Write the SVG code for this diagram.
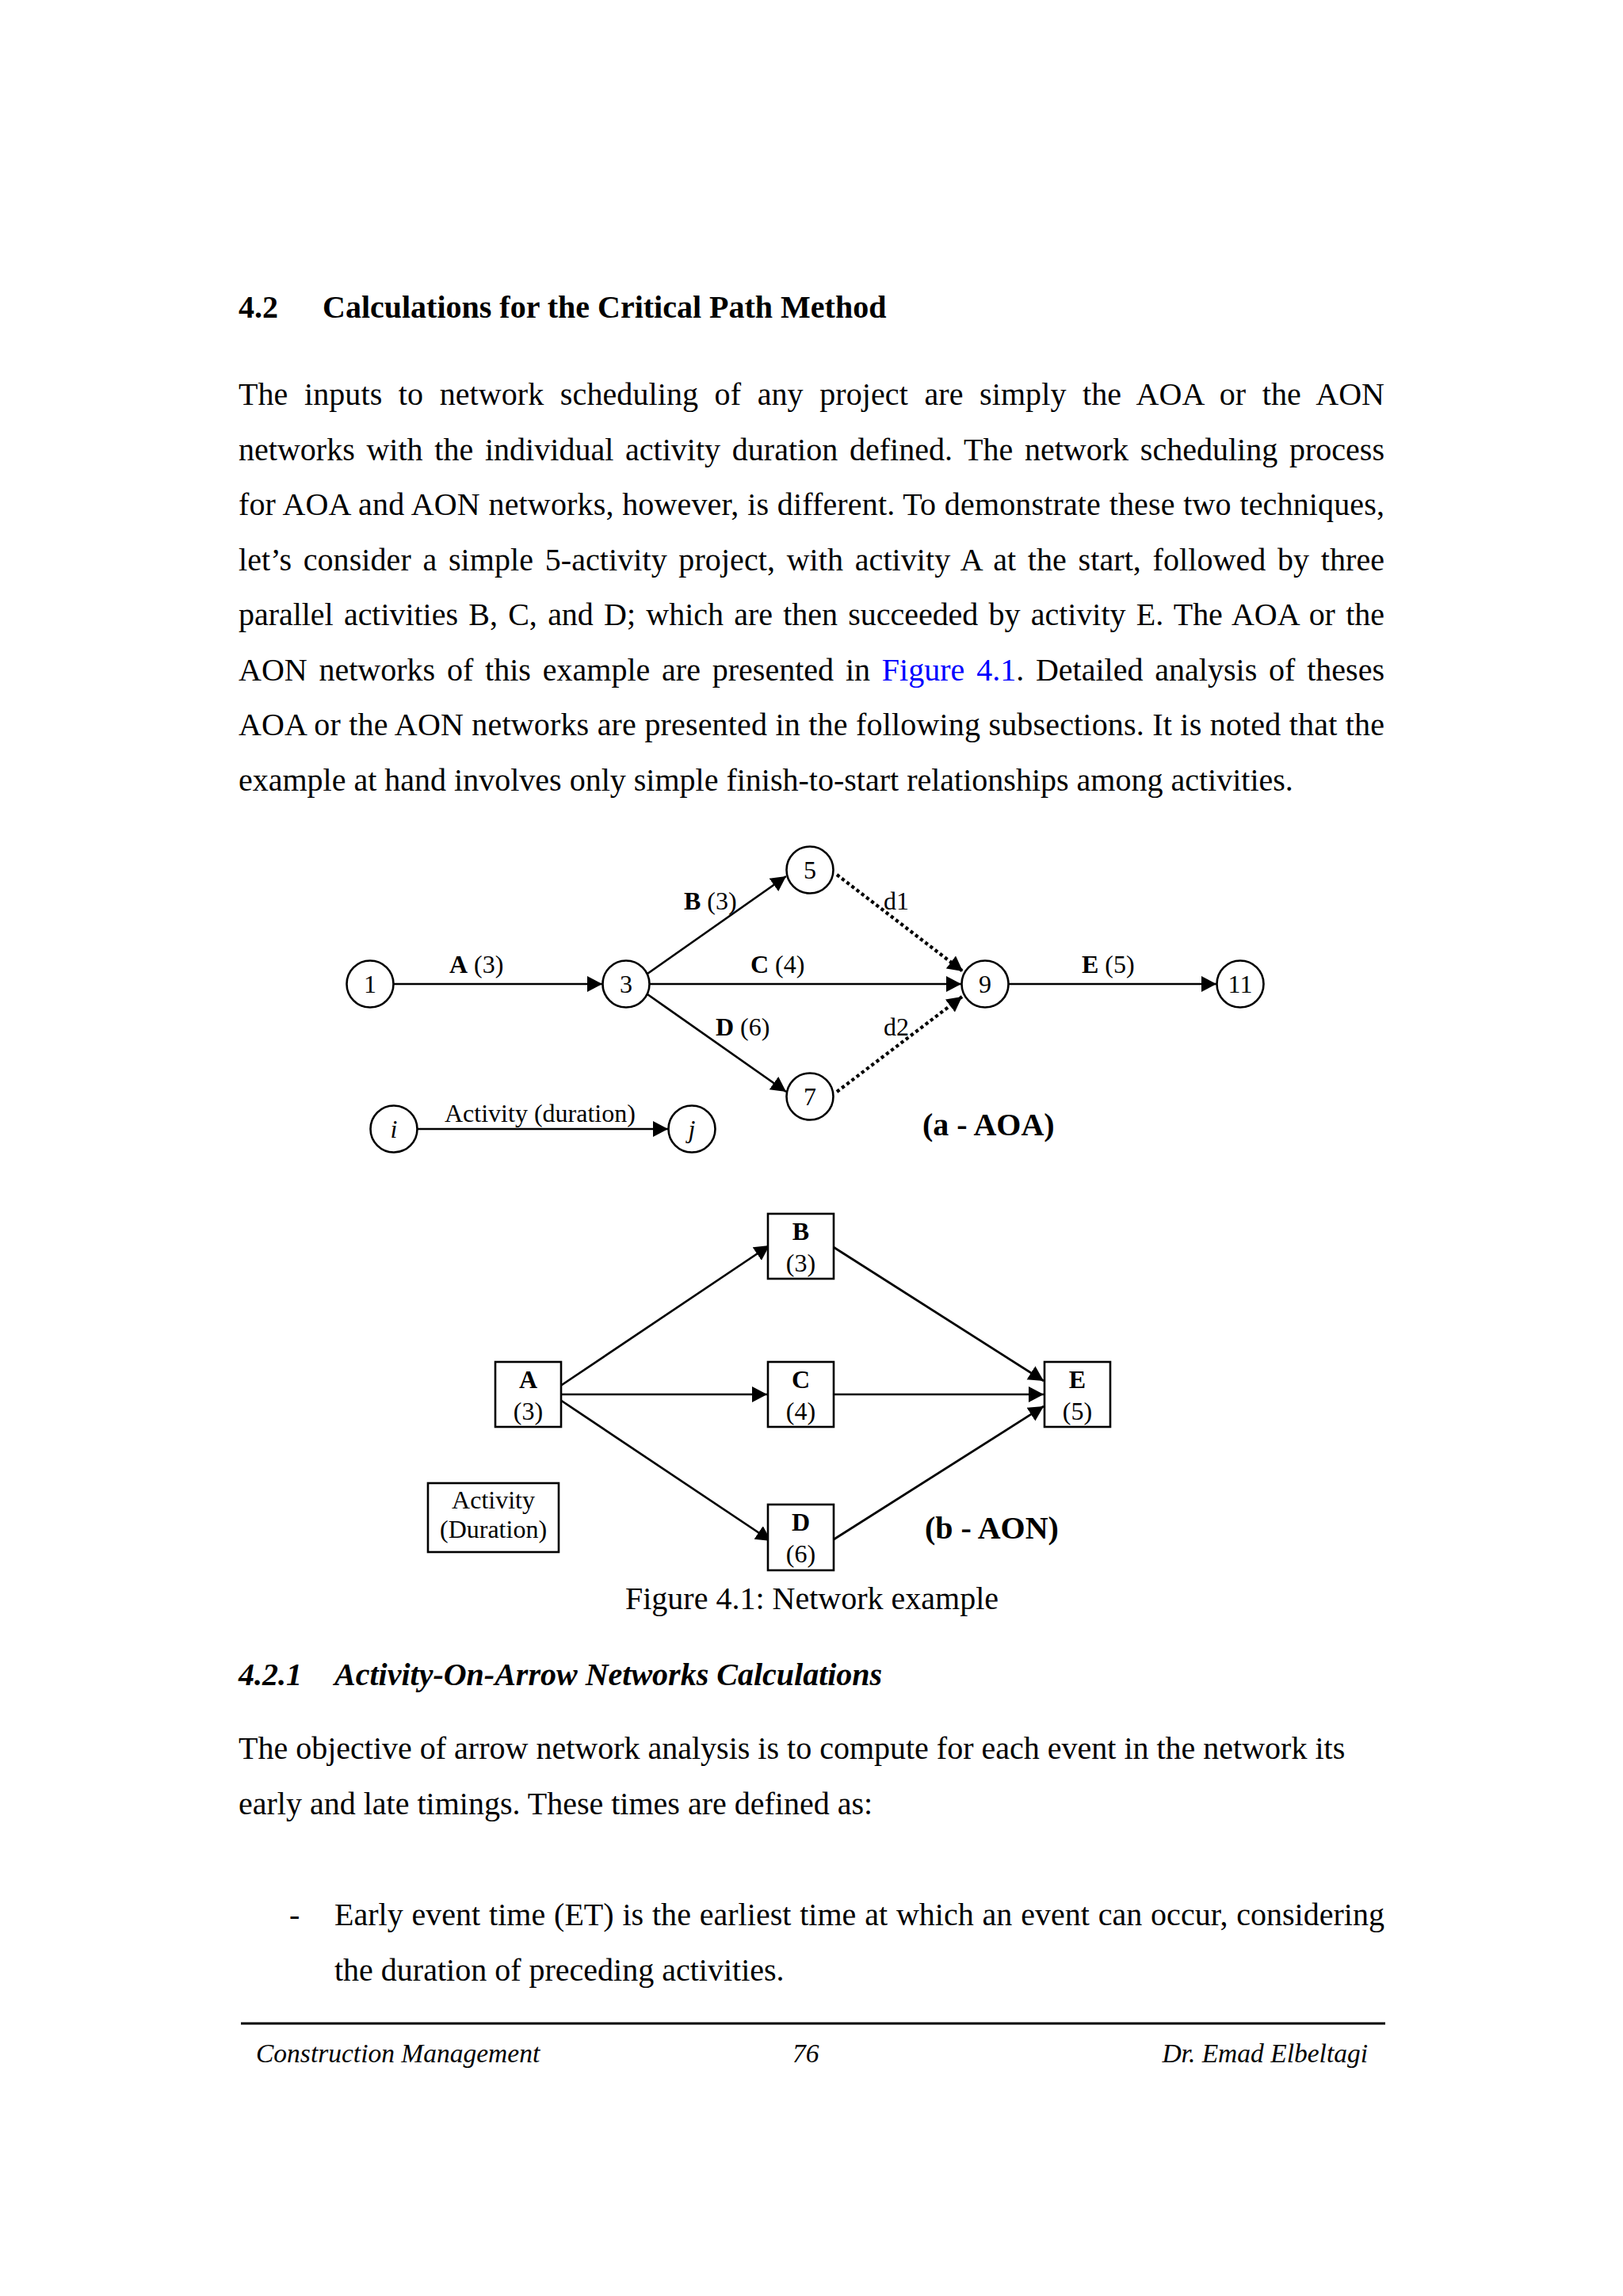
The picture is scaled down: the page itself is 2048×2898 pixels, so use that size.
<svg xmlns="http://www.w3.org/2000/svg" width="2048" height="2898" viewBox="0 0 2048 2898">
<defs>
<style>
text{font-family:"Liberation Serif","Times New Roman",serif;fill:#000}
.body{font-size:40px}
.h{font-size:40px;font-weight:bold}
.hi{font-size:40px;font-weight:bold;font-style:italic}
.foot{font-size:33.5px;font-style:italic}
.lbl{font-size:32px}
.b{font-weight:bold}
.num{font-size:32px;text-anchor:middle}
.node circle{fill:#fff;stroke:#000;stroke-width:2.6}
.node rect{fill:#fff;stroke:#000;stroke-width:2.6}
.edge{stroke:#000;stroke-width:2.7;fill:none;marker-end:url(#ah)}
.dot{stroke:#000;stroke-width:4.2;fill:none;stroke-dasharray:4.2 3.6;marker-end:url(#ah)}
.link{fill:#0000ff}
</style>
<marker id="ah" markerUnits="userSpaceOnUse" markerWidth="20" markerHeight="21" refX="19" refY="10" orient="auto" viewBox="0 0 20 21">
<path d="M0,0 L19,10 L0,20 Z" fill="#000"/>
</marker>
</defs>
<rect width="2048" height="2898" fill="#fff"/>

<!-- Heading and body text -->
<g id="text-top">
<text class="h" x="301" y="401">4.2</text>
<text class="h" x="407" y="401">Calculations for the Critical Path Method</text>
<text class="body" x="301" y="511" word-spacing="10.4" textLength="1446" lengthAdjust="spacing">The inputs to network scheduling of any project are simply the AOA or the AON</text>
<text class="body" x="301" y="580.5" word-spacing="4.7" textLength="1446" lengthAdjust="spacing">networks with the individual activity duration defined. The network scheduling process</text>
<text class="body" x="301" y="650" word-spacing="0.5" textLength="1446" lengthAdjust="spacing">for AOA and AON networks, however, is different. To demonstrate these two techniques,</text>
<text class="body" x="301" y="719.5" word-spacing="4.6" textLength="1446" lengthAdjust="spacing">let’s consider a simple 5-activity project, with activity A at the start, followed by three</text>
<text class="body" x="301" y="789" word-spacing="3.4" textLength="1446" lengthAdjust="spacing">parallel activities B, C, and D; which are then succeeded by activity E. The AOA or the</text>
<text class="body" x="301" y="858.5" word-spacing="4.8" textLength="1446" lengthAdjust="spacing">AON networks of this example are presented in <tspan class="link">Figure 4.1</tspan>. Detailed analysis of theses</text>
<text class="body" x="301" y="928" word-spacing="0.2" textLength="1446" lengthAdjust="spacing">AOA or the AON networks are presented in the following subsections. It is noted that the</text>
<text class="body" x="301" y="997.5">example at hand involves only simple finish-to-start relationships among activities.</text>
</g>

<!-- (a) AOA network -->
<g id="aoa-connectors">
<line class="edge" x1="497" y1="1242" x2="760" y2="1242"/>
<line class="edge" x1="817" y1="1229" x2="992" y2="1106"/>
<line class="edge" x1="820" y1="1242" x2="1213" y2="1242"/>
<line class="edge" x1="817" y1="1255" x2="992" y2="1378"/>
<line class="dot" x1="1056" y1="1104" x2="1215" y2="1226"/>
<line class="dot" x1="1056" y1="1378" x2="1214" y2="1258"/>
<line class="edge" x1="1273" y1="1242" x2="1535" y2="1242"/>
<line class="edge" x1="527" y1="1425" x2="843" y2="1425"/>
</g>
<g id="aoa-labels">
<text class="lbl" x="567" y="1228"><tspan class="b">A</tspan> (3)</text>
<text class="lbl" x="863" y="1148"><tspan class="b">B</tspan> (3)</text>
<text class="lbl" x="947" y="1228"><tspan class="b">C</tspan> (4)</text>
<text class="lbl" x="903" y="1307"><tspan class="b">D</tspan> (6)</text>
<text class="lbl" x="1115" y="1148">d1</text>
<text class="lbl" x="1115" y="1307">d2</text>
<text class="lbl" x="1365" y="1228"><tspan class="b">E</tspan> (5)</text>
<text class="lbl" x="561" y="1416">Activity (duration)</text>
</g>
<g id="n1" class="node"><circle cx="467" cy="1242" r="29.5"/><text class="num" x="467" y="1253">1</text></g>
<g id="n3" class="node"><circle cx="790" cy="1242" r="29.5"/><text class="num" x="790" y="1253">3</text></g>
<g id="n5" class="node"><circle cx="1022" cy="1098" r="29.5"/><text class="num" x="1022" y="1109">5</text></g>
<g id="n7" class="node"><circle cx="1022" cy="1384" r="29.5"/><text class="num" x="1022" y="1395">7</text></g>
<g id="n9" class="node"><circle cx="1243" cy="1242" r="29.5"/><text class="num" x="1243" y="1253">9</text></g>
<g id="n11" class="node"><circle cx="1565" cy="1242" r="29.5"/><text class="num" x="1565" y="1253">11</text></g>
<g id="ni" class="node"><circle cx="497" cy="1425" r="29.5"/><text class="num" x="497" y="1436" font-style="italic">i</text></g>
<g id="nj" class="node"><circle cx="873" cy="1425" r="29.5"/><text class="num" x="873" y="1436" font-style="italic">j</text></g>
<text class="h" x="1164" y="1433">(a - AOA)</text>

<!-- (b) AON network -->
<g id="aon-connectors">
<line class="edge" x1="706" y1="1750" x2="971" y2="1572"/>
<line class="edge" x1="706" y1="1760" x2="968" y2="1760"/>
<line class="edge" x1="707" y1="1767" x2="973" y2="1945"/>
<line class="edge" x1="1050" y1="1573" x2="1317" y2="1743"/>
<line class="edge" x1="1052" y1="1760" x2="1317" y2="1760"/>
<line class="edge" x1="1049" y1="1945" x2="1317" y2="1775"/>
</g>
<g id="bA" class="node"><rect x="625" y="1719" width="83" height="82"/><text class="num b" x="666.5" y="1752">A</text><text class="num" x="666.5" y="1792">(3)</text></g>
<g id="bB" class="node"><rect x="969" y="1532" width="83" height="82"/><text class="num b" x="1010.5" y="1565">B</text><text class="num" x="1010.5" y="1605">(3)</text></g>
<g id="bC" class="node"><rect x="969" y="1719" width="83" height="82"/><text class="num b" x="1010.5" y="1752">C</text><text class="num" x="1010.5" y="1792">(4)</text></g>
<g id="bD" class="node"><rect x="969" y="1899" width="83" height="83"/><text class="num b" x="1010.5" y="1932">D</text><text class="num" x="1010.5" y="1972">(6)</text></g>
<g id="bE" class="node"><rect x="1318" y="1719" width="83" height="82"/><text class="num b" x="1359.5" y="1752">E</text><text class="num" x="1359.5" y="1792">(5)</text></g>
<g id="legend" class="node"><rect x="540" y="1872" width="165" height="87"/><text class="num" x="622.5" y="1904">Activity</text><text class="num" x="622.5" y="1941">(Duration)</text></g>
<text class="h" x="1167" y="1942">(b - AON)</text>
<text class="body" x="789" y="2031">Figure 4.1: Network example</text>

<!-- Lower text -->
<g id="text-bottom">
<text class="hi" x="301" y="2127">4.2.1</text>
<text class="hi" x="422" y="2127">Activity-On-Arrow Networks Calculations</text>
<text class="body" x="301" y="2220">The objective of arrow network analysis is to compute for each event in the network its</text>
<text class="body" x="301" y="2290">early and late timings. These times are defined as:</text>
<text class="body" x="365" y="2430">-</text>
<text class="body" x="422" y="2430" word-spacing="0.8" textLength="1325" lengthAdjust="spacing">Early event time (ET) is the earliest time at which an event can occur, considering</text>
<text class="body" x="422" y="2500">the duration of preceding activities.</text>
</g>

<!-- Footer -->
<g id="footer">
<line x1="304" y1="2554" x2="1748" y2="2554" stroke="#000" stroke-width="3"/>
<text class="foot" x="323" y="2603">Construction Management</text>
<text class="foot" x="1000" y="2603">76</text>
<text class="foot" x="1726" y="2603" text-anchor="end">Dr. Emad Elbeltagi</text>
</g>
</svg>
